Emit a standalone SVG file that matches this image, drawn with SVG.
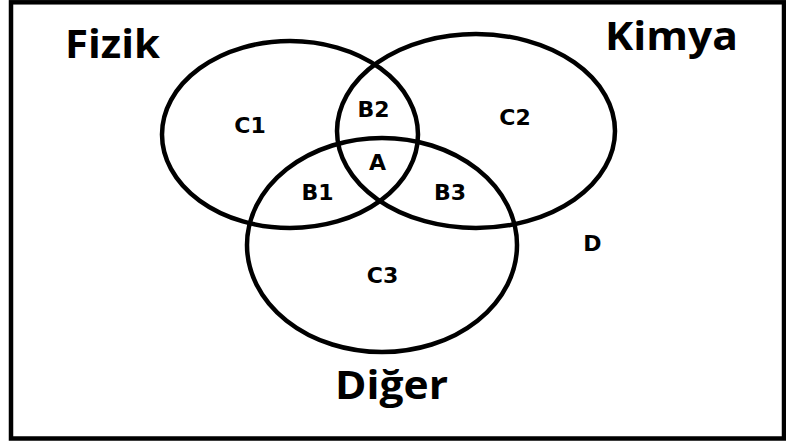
<svg xmlns="http://www.w3.org/2000/svg" width="786" height="444" viewBox="0 0 786 444">
<style>
.set{fill:none;stroke:#000;stroke-width:4.5}
.big{font-family:"Open Sans","Liberation Sans",sans-serif;font-weight:bold;font-size:39px;fill:#000}
.lbl{font-family:"DejaVu Sans","Liberation Sans",sans-serif;font-weight:bold;font-size:22px;fill:#000;text-anchor:middle}
</style>
<rect x="0" y="0" width="786" height="444" fill="#fff"/>
<rect id="universe" x="11" y="2.3" width="773" height="436.2" fill="none" stroke="#000" stroke-width="4.5"/>
<g id="fizik">
<ellipse class="set" cx="290" cy="134.5" rx="128" ry="93.5"/>
<text class="big" x="65" y="58" textLength="95" lengthAdjust="spacingAndGlyphs">Fizik</text>
</g>
<g id="kimya">
<ellipse class="set" cx="476" cy="131" rx="139" ry="97"/>
<text class="big" x="605" y="50" textLength="133" lengthAdjust="spacingAndGlyphs">Kimya</text>
</g>
<g id="diger">
<ellipse class="set" cx="382" cy="245" rx="135" ry="107"/>
<text class="big" x="335" y="399" textLength="113" lengthAdjust="spacingAndGlyphs">Diğer</text>
</g>
<g id="regions">
<text class="lbl" x="250" y="133">C1</text>
<text class="lbl" x="373.5" y="117">B2</text>
<text class="lbl" x="515" y="125">C2</text>
<text class="lbl" x="377.5" y="170">A</text>
<text class="lbl" x="317.5" y="200">B1</text>
<text class="lbl" x="450" y="200">B3</text>
<text class="lbl" x="382.5" y="283">C3</text>
<text class="lbl" x="592.5" y="251">D</text>
</g>
</svg>
